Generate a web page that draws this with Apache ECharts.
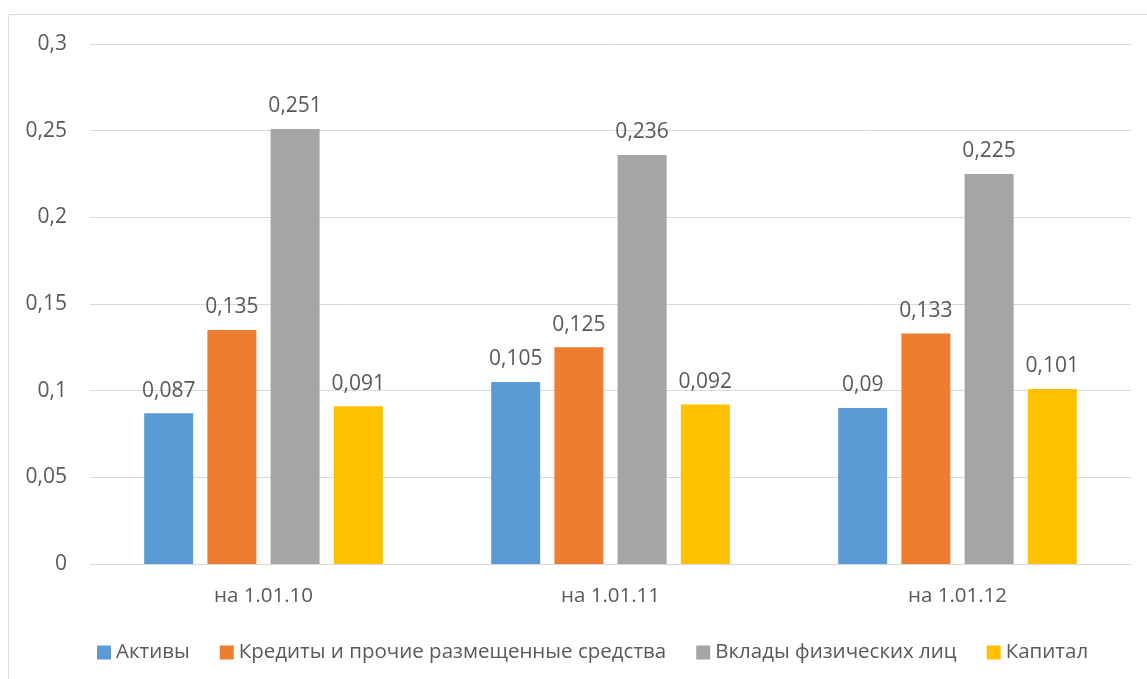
<!DOCTYPE html>
<html>
<head>
<meta charset="utf-8">
<script src="https://cdn.jsdelivr.net/npm/echarts@6/dist/echarts.min.js"></script>
<style>
  html, body { margin: 0; padding: 0; background: #fff; }
  #chart { width: 1147px; height: 679px; }
</style>
</head>
<body>
<div id="chart"></div>
<script>
// Dates of the reporting periods
const categories = ['на 1.01.10', 'на 1.01.11', 'на 1.01.12'];

// Indicator values per period
const seriesNames = ['Активы', 'Кредиты и прочие размещенные средства', 'Вклады физических лиц', 'Капитал'];
const aktivy   = [0.087, 0.105, 0.09];
const kredity  = [0.135, 0.125, 0.133];
const vklady   = [0.251, 0.236, 0.225];
const kapital  = [0.091, 0.092, 0.101];
const seriesValues = [aktivy, kredity, vklady, kapital];
const colors = ['#5B9BD5', '#ED7D31', '#A5A5A5', '#FFC000'];

const FONT = 'Open Sans, Noto Sans, sans-serif';
const TEXT = '#595959';
const fmt = v => String(v).replace('.', ',');

const chart = echarts.init(document.getElementById('chart'), null, { renderer: 'canvas' });

chart.setOption({
  animation: false,
  textStyle: { fontFamily: FONT },
  graphic: [{
    type: 'rect',
    shape: { x: 8.5, y: 14.5, width: 1150, height: 680 },
    style: { fill: null, stroke: '#D9D9D9', lineWidth: 1 },
    silent: true
  }],
  grid: { left: 90, right: 16, top: 44, bottom: 115 },
  legend: {
    top: 637,
    left: 92,
    itemWidth: 14,
    itemHeight: 14,
    itemGap: 30,
    icon: 'rect',
    textStyle: { color: TEXT, fontSize: 20.5, fontFamily: FONT }
  },
  xAxis: {
    type: 'category',
    data: categories,
    axisLine: { lineStyle: { color: '#D9D9D9', width: 1 } },
    axisTick: { show: false },
    axisLabel: { color: TEXT, fontSize: 20.5, margin: 22, fontFamily: FONT }
  },
  yAxis: {
    type: 'value',
    min: 0,
    max: 0.3,
    interval: 0.05,
    axisLine: { show: false },
    axisTick: { show: false },
    splitLine: { lineStyle: { color: '#D9D9D9', width: 1 } },
    axisLabel: {
      color: TEXT, fontSize: 21, margin: 23, fontFamily: FONT,
      formatter: v => fmt(+v.toFixed(2))
    }
  },
  series: seriesValues.map((vals, i) => ({
    name: seriesNames[i],
    type: 'bar',
    data: vals,
    barWidth: 49,
    barGap: '29%',
    itemStyle: { color: colors[i] },
    label: {
      show: true,
      position: 'top',
      distance: 12,
      color: TEXT,
      fontSize: 21,
      fontFamily: FONT,
      formatter: p => fmt(p.value)
    }
  }))
});
</script>
</body>
</html>
